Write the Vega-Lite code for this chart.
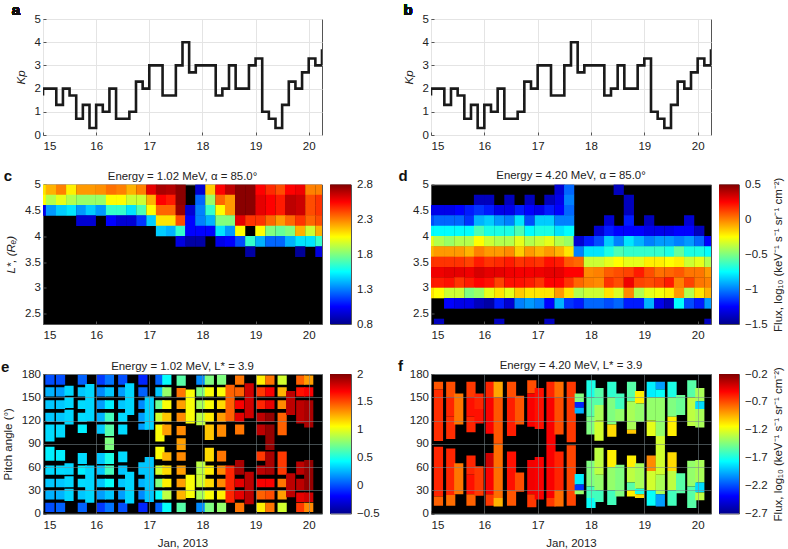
{"$schema":"https://vega.github.io/schema/vega-lite/v6.json","padding":{"left":0,"top":2,"right":0,"bottom":0},"background":"white","resolve":{"scale":{"color":"independent"}},"config":{"font":"Liberation Sans","view":{"stroke":"#555"},"axis":{"labelFontSize":11.5,"labelColor":"#222","titleFontSize":11.5,"titleColor":"#222","titleFontWeight":"normal","grid":false,"domain":false,"tickColor":"#555","tickSize":-3,"labelPadding":5.5,"labelOverlap":false},"axisX":{"labelPadding":8.5},"title":{"fontSize":11.4,"fontWeight":"normal","color":"#222","offset":5}},"columns":5,"align":"each","bounds":"flush","spacing":{"row":49.5,"column":8},"datasets":{"kp":[{"t":15,"k":1.7},{"t":15,"k":2},{"t":15.125,"k":2},{"t":15.25,"k":1.3},{"t":15.375,"k":2},{"t":15.5,"k":1.7},{"t":15.625,"k":0.7},{"t":15.75,"k":1.3},{"t":15.875,"k":0.3},{"t":16,"k":1.3},{"t":16.125,"k":1},{"t":16.25,"k":2},{"t":16.375,"k":0.7},{"t":16.5,"k":0.7},{"t":16.625,"k":1},{"t":16.75,"k":2.3},{"t":16.875,"k":2},{"t":17,"k":3},{"t":17.125,"k":3},{"t":17.25,"k":1.7},{"t":17.375,"k":1.7},{"t":17.5,"k":3},{"t":17.625,"k":4},{"t":17.75,"k":2.7},{"t":17.875,"k":3},{"t":18,"k":3},{"t":18.125,"k":3},{"t":18.25,"k":1.7},{"t":18.375,"k":2},{"t":18.5,"k":3},{"t":18.625,"k":2},{"t":18.75,"k":2},{"t":18.875,"k":3},{"t":19,"k":3.3},{"t":19.125,"k":1},{"t":19.25,"k":0.7},{"t":19.375,"k":0.3},{"t":19.5,"k":1.3},{"t":19.625,"k":2.3},{"t":19.75,"k":2},{"t":19.875,"k":2.7},{"t":20,"k":3.3},{"t":20.125,"k":3},{"t":20.25,"k":3.7}]},"concat":[
{"width":279,"height":116,"data":{"name":"kp"},"layer":[{"mark":{"type":"line","interpolate":"step-after","color":"#1a1a1a","strokeWidth":2.6,"clip":true},"encoding":{"x":{"field":"t","type":"quantitative","scale":{"domain":[15,20.25],"nice":false},"axis":{"values":[15,16,17,18,19,20],"format":"d","title":null,"grid":true,"gridColor":"#e4e4e4"}},"y":{"field":"k","type":"quantitative","scale":{"domain":[0,5]},"axis":{"values":[0,1,2,3,4,5],"tickCount":6,"format":"d","title":"Kp","titleFontStyle":"italic","titlePadding":8,"grid":true,"gridColor":"#e4e4e4"}}}},{"mark":{"type":"text","fontSize":15,"fontWeight":"bold","color":"#111"},"encoding":{"x":{"datum":14.49},"y":{"datum":5.39,"axis":{"values":[0,1,2,3,4,5]}},"text":{"value":"a"}}}]},
{"width":21,"height":116,"view":{"stroke":null},"data":{"values":[]},"mark":"rect"},
{"width":64,"height":116,"view":{"stroke":null},"data":{"values":[]},"mark":"rect"},
{"width":280,"height":116,"data":{"name":"kp"},"layer":[{"mark":{"type":"line","interpolate":"step-after","color":"#1a1a1a","strokeWidth":2.6,"clip":true},"encoding":{"x":{"field":"t","type":"quantitative","scale":{"domain":[15,20.25],"nice":false},"axis":{"values":[15,16,17,18,19,20],"format":"d","title":null,"grid":true,"gridColor":"#e4e4e4"}},"y":{"field":"k","type":"quantitative","scale":{"domain":[0,5]},"axis":{"values":[0,1,2,3,4,5],"tickCount":6,"format":"d","title":"Kp","titleFontStyle":"italic","titlePadding":8,"grid":true,"gridColor":"#e4e4e4"}}}},{"mark":{"type":"text","fontSize":15,"fontWeight":"bold","color":"#111"},"encoding":{"x":{"datum":14.57},"y":{"datum":5.39,"axis":{"values":[0,1,2,3,4,5]}},"text":{"value":"b"}}}]},
{"width":20,"height":116,"view":{"stroke":null},"data":{"values":[]},"mark":"rect"},

{"width":279,"height":139.5,"view":{"fill":"#000"},"title":{"text":"Energy = 1.02 MeV, α = 85.0°","dy":18},"layer":[{"data":{"values":[
{"t":14.96,"y":4.9,"v":2.1},{"t":15.15,"y":4.9,"v":2.2},{"t":15.34,"y":4.9,"v":2.3},{"t":15.53,"y":4.9,"v":2.08},{"t":15.72,"y":4.9,"v":2.25},{"t":15.9,"y":4.9,"v":2.25},{"t":16.09,"y":4.9,"v":2.27},{"t":16.28,"y":4.9,"v":2.33},{"t":16.47,"y":4.9,"v":2.3},{"t":16.66,"y":4.9,"v":2.2},{"t":16.85,"y":4.9,"v":2.3},{"t":17.04,"y":4.9,"v":2.6},{"t":17.22,"y":4.9,"v":2.72},{"t":17.41,"y":4.9,"v":2.7},{"t":17.59,"y":4.9,"v":2.78},{"t":17.96,"y":4.9,"v":0.95},{"t":18.15,"y":4.9,"v":2.15},{"t":18.34,"y":4.9,"v":2.55},{"t":18.52,"y":4.9,"v":2.68},{"t":18.71,"y":4.9,"v":2.78},{"t":18.9,"y":4.9,"v":2.78},{"t":19.09,"y":4.9,"v":2.55},{"t":19.28,"y":4.9,"v":2.47},{"t":19.47,"y":4.9,"v":2.4},{"t":19.65,"y":4.9,"v":2.55},{"t":19.84,"y":4.9,"v":2.58},{"t":20.03,"y":4.9,"v":2.3},{"t":20.22,"y":4.9,"v":2.3},
{"t":14.96,"y":4.7,"v":2.05},{"t":15.15,"y":4.7,"v":1.9},{"t":15.34,"y":4.7,"v":2},{"t":15.53,"y":4.7,"v":1.9},{"t":15.72,"y":4.7,"v":1.85},{"t":15.9,"y":4.7,"v":1.85},{"t":16.09,"y":4.7,"v":1.85},{"t":16.28,"y":4.7,"v":2.05},{"t":16.47,"y":4.7,"v":2.05},{"t":16.66,"y":4.7,"v":1.95},{"t":16.85,"y":4.7,"v":1.95},{"t":17.04,"y":4.7,"v":2.2},{"t":17.22,"y":4.7,"v":2.55},{"t":17.41,"y":4.7,"v":2.5},{"t":17.59,"y":4.7,"v":2.78},{"t":17.96,"y":4.7,"v":1.25},{"t":18.15,"y":4.7,"v":1.85},{"t":18.34,"y":4.7,"v":2.35},{"t":18.52,"y":4.7,"v":2.25},{"t":18.71,"y":4.7,"v":2.78},{"t":18.9,"y":4.7,"v":2.78},{"t":19.09,"y":4.7,"v":2.6},{"t":19.28,"y":4.7,"v":2.55},{"t":19.47,"y":4.7,"v":2.5},{"t":19.65,"y":4.7,"v":2.68},{"t":19.84,"y":4.7,"v":2.65},{"t":20.03,"y":4.7,"v":2.4},{"t":20.22,"y":4.7,"v":2.45},
{"t":14.96,"y":4.5,"v":1},{"t":15.15,"y":4.5,"v":1.35},{"t":15.34,"y":4.5,"v":1.45},{"t":15.53,"y":4.5,"v":1.5},{"t":15.72,"y":4.5,"v":1.35},{"t":15.9,"y":4.5,"v":1.45},{"t":16.09,"y":4.5,"v":1.35},{"t":16.28,"y":4.5,"v":1.65},{"t":16.47,"y":4.5,"v":1.65},{"t":16.66,"y":4.5,"v":1.5},{"t":16.85,"y":4.5,"v":1.7},{"t":17.04,"y":4.5,"v":2.05},{"t":17.22,"y":4.5,"v":2.35},{"t":17.41,"y":4.5,"v":2.35},{"t":17.59,"y":4.5,"v":2.75},{"t":17.77,"y":4.5,"v":0.95},{"t":17.96,"y":4.5,"v":1.3},{"t":18.15,"y":4.5,"v":1.65},{"t":18.34,"y":4.5,"v":2.05},{"t":18.52,"y":4.5,"v":2.25},{"t":18.71,"y":4.5,"v":2.78},{"t":18.9,"y":4.5,"v":2.78},{"t":19.09,"y":4.5,"v":2.6},{"t":19.28,"y":4.5,"v":2.55},{"t":19.47,"y":4.5,"v":2.5},{"t":19.65,"y":4.5,"v":2.68},{"t":19.84,"y":4.5,"v":2.65},{"t":20.03,"y":4.5,"v":2.4},{"t":20.22,"y":4.5,"v":2.45},
{"t":15.72,"y":4.3,"v":0.95},{"t":15.9,"y":4.3,"v":0.95},{"t":16.28,"y":4.3,"v":1.05},{"t":16.47,"y":4.3,"v":0.95},{"t":16.66,"y":4.3,"v":0.95},{"t":16.85,"y":4.3,"v":1.15},{"t":17.04,"y":4.3,"v":1.45},{"t":17.22,"y":4.3,"v":2.1},{"t":17.41,"y":4.3,"v":2.1},{"t":17.59,"y":4.3,"v":2.4},{"t":17.77,"y":4.3,"v":1.05},{"t":17.96,"y":4.3,"v":1.3},{"t":18.15,"y":4.3,"v":1.4},{"t":18.34,"y":4.3,"v":1.8},{"t":18.52,"y":4.3,"v":1.8},{"t":18.71,"y":4.3,"v":2.6},{"t":18.9,"y":4.3,"v":2.45},{"t":19.09,"y":4.3,"v":2.45},{"t":19.28,"y":4.3,"v":2.35},{"t":19.47,"y":4.3,"v":2.25},{"t":19.65,"y":4.3,"v":2.35},{"t":19.84,"y":4.3,"v":2.45},{"t":20.03,"y":4.3,"v":2.35},{"t":20.22,"y":4.3,"v":2.4},
{"t":17.22,"y":4.1,"v":1.45},{"t":17.41,"y":4.1,"v":1.4},{"t":17.59,"y":4.1,"v":1.65},{"t":17.77,"y":4.1,"v":1.05},{"t":17.96,"y":4.1,"v":1.05},{"t":18.15,"y":4.1,"v":1.05},{"t":18.34,"y":4.1,"v":1.5},{"t":18.52,"y":4.1,"v":1.35},{"t":18.71,"y":4.1,"v":2.05},{"t":19.09,"y":4.1,"v":2.05},{"t":19.28,"y":4.1,"v":1.8},{"t":19.47,"y":4.1,"v":1.75},{"t":19.65,"y":4.1,"v":1.8},{"t":19.84,"y":4.1,"v":2.2},{"t":20.03,"y":4.1,"v":1.95},{"t":20.22,"y":4.1,"v":2.2},
{"t":17.59,"y":3.9,"v":0.98},{"t":17.77,"y":3.9,"v":0.85},{"t":17.96,"y":3.9,"v":0.85},{"t":18.34,"y":3.9,"v":1},{"t":18.52,"y":3.9,"v":1.05},{"t":18.71,"y":3.9,"v":1.2},{"t":18.9,"y":3.9,"v":1.65},{"t":19.09,"y":3.9,"v":1.4},{"t":19.28,"y":3.9,"v":1.25},{"t":19.47,"y":3.9,"v":1.25},{"t":19.65,"y":3.9,"v":1.4},{"t":19.84,"y":3.9,"v":1.5},{"t":20.03,"y":3.9,"v":1.5},{"t":20.22,"y":3.9,"v":1.65},
{"t":18.9,"y":3.7,"v":0.85},{"t":19.84,"y":3.7,"v":0.82},{"t":20.22,"y":3.7,"v":0.98}
]},"mark":{"type":"rect","width":10.2,"height":10.6,"clip":true},"encoding":{"x":{"field":"t","type":"quantitative","scale":{"domain":[15,20.25],"nice":false},"axis":{"values":[15,16,17,18,19,20],"format":"d","title":null}},"y":{"field":"y","type":"quantitative","scale":{"domain":[2.3,5],"nice":false},"axis":{"values":[2.5,3,3.5,4,4.5,5],"tickCount":6,"format":"~r","title":"L*, (Rₑ)","titleFontStyle":"italic","titlePadding":8}},"color":{"field":"v","type":"quantitative","legend":null,"scale":{"domain":[0.8,1.05,1.55,2.05,2.55,2.8],"range":["#00008f","#0000ff","#00ffff","#ffff00","#ff0000","#800000"],"interpolate":"rgb"}}}},{"data":{"values":[{}]},"mark":{"type":"text","fontSize":15,"fontWeight":"bold","color":"#111"},"encoding":{"x":{"datum":14.34},"y":{"datum":5.155,"axis":{"values":[2.5,3,3.5,4,4.5,5]}},"text":{"value":"c"}}}]},
{"width":21,"height":139.5,"data":{"values":[{"lo":0.8,"hi":2.8}]},"mark":{"type":"rect","color":{"gradient":"linear","x1":0,"y1":1,"x2":0,"y2":0,"stops":[{"offset":0,"color":"#00008f"},{"offset":0.125,"color":"#0000ff"},{"offset":0.375,"color":"#00ffff"},{"offset":0.625,"color":"#ffff00"},{"offset":0.875,"color":"#ff0000"},{"offset":1,"color":"#800000"}]}},"encoding":{"y":{"field":"lo","type":"quantitative","scale":{"domain":[0.8,2.8],"nice":false},"axis":{"orient":"right","values":[0.8,1.3,1.8,2.3,2.8],"format":".1f","title":null,"tickSize":0}},"y2":{"field":"hi"}}},
{"width":64,"height":139.5,"view":{"stroke":null},"data":{"values":[]},"mark":"rect"},
{"width":280,"height":139.5,"view":{"fill":"#000"},"title":{"text":"Energy = 4.20 MeV, α = 85.0°","dy":18},"layer":[{"data":{"values":[
{"t":17.41,"y":4.9,"v":-1.35},{"t":17.59,"y":4.9,"v":-1.05},{"t":18.52,"y":4.9,"v":-1.4},
{"t":15.9,"y":4.7,"v":-1.4},{"t":16.09,"y":4.7,"v":-1.4},{"t":16.47,"y":4.7,"v":-1.4},{"t":16.85,"y":4.7,"v":-1.4},{"t":17.22,"y":4.7,"v":-1.4},{"t":17.41,"y":4.7,"v":-1.3},{"t":17.59,"y":4.7,"v":-1},{"t":18.71,"y":4.7,"v":-1.4},
{"t":14.96,"y":4.5,"v":-1.3},{"t":15.15,"y":4.5,"v":-1.3},{"t":15.34,"y":4.5,"v":-1.3},{"t":15.53,"y":4.5,"v":-1.25},{"t":15.72,"y":4.5,"v":-1.2},{"t":15.9,"y":4.5,"v":-1.15},{"t":16.09,"y":4.5,"v":-1.2},{"t":16.28,"y":4.5,"v":-1.3},{"t":16.47,"y":4.5,"v":-1.3},{"t":16.66,"y":4.5,"v":-1.2},{"t":16.85,"y":4.5,"v":-1.25},{"t":17.04,"y":4.5,"v":-1.3},{"t":17.22,"y":4.5,"v":-1.2},{"t":17.41,"y":4.5,"v":-1.25},{"t":17.59,"y":4.5,"v":-1.05},{"t":18.71,"y":4.5,"v":-1.4},
{"t":14.96,"y":4.3,"v":-1.1},{"t":15.15,"y":4.3,"v":-1.05},{"t":15.34,"y":4.3,"v":-1.05},{"t":15.53,"y":4.3,"v":-1.05},{"t":15.72,"y":4.3,"v":-1.15},{"t":15.9,"y":4.3,"v":-0.9},{"t":16.09,"y":4.3,"v":-0.85},{"t":16.28,"y":4.3,"v":-0.95},{"t":16.47,"y":4.3,"v":-1},{"t":16.66,"y":4.3,"v":-0.8},{"t":16.85,"y":4.3,"v":-1.1},{"t":17.04,"y":4.3,"v":-0.85},{"t":17.22,"y":4.3,"v":-0.85},{"t":17.41,"y":4.3,"v":-1},{"t":17.59,"y":4.3,"v":-1},{"t":18.34,"y":4.3,"v":-1.35},{"t":18.71,"y":4.3,"v":-1.2},{"t":19.09,"y":4.3,"v":-1.4},{"t":19.84,"y":4.3,"v":-1.35},
{"t":14.96,"y":4.1,"v":-0.75},{"t":15.15,"y":4.1,"v":-0.75},{"t":15.34,"y":4.1,"v":-0.75},{"t":15.53,"y":4.1,"v":-0.75},{"t":15.72,"y":4.1,"v":-0.75},{"t":15.9,"y":4.1,"v":-0.6},{"t":16.09,"y":4.1,"v":-0.7},{"t":16.28,"y":4.1,"v":-0.7},{"t":16.47,"y":4.1,"v":-0.7},{"t":16.66,"y":4.1,"v":-0.6},{"t":16.85,"y":4.1,"v":-0.75},{"t":17.04,"y":4.1,"v":-0.7},{"t":17.22,"y":4.1,"v":-0.7},{"t":17.41,"y":4.1,"v":-0.8},{"t":17.59,"y":4.1,"v":-0.75},{"t":18.15,"y":4.1,"v":-1.35},{"t":18.34,"y":4.1,"v":-1.2},{"t":18.52,"y":4.1,"v":-1.25},{"t":18.71,"y":4.1,"v":-1.25},{"t":18.9,"y":4.1,"v":-1.25},{"t":19.09,"y":4.1,"v":-1.3},{"t":19.28,"y":4.1,"v":-1.3},{"t":19.47,"y":4.1,"v":-1.3},{"t":19.65,"y":4.1,"v":-1.25},{"t":19.84,"y":4.1,"v":-1.25},{"t":20.03,"y":4.1,"v":-1.4},
{"t":14.96,"y":3.9,"v":-0.3},{"t":15.15,"y":3.9,"v":-0.4},{"t":15.34,"y":3.9,"v":-0.45},{"t":15.53,"y":3.9,"v":-0.4},{"t":15.72,"y":3.9,"v":-0.4},{"t":15.9,"y":3.9,"v":-0.25},{"t":16.09,"y":3.9,"v":-0.35},{"t":16.28,"y":3.9,"v":-0.4},{"t":16.47,"y":3.9,"v":-0.4},{"t":16.66,"y":3.9,"v":-0.3},{"t":16.85,"y":3.9,"v":-0.4},{"t":17.04,"y":3.9,"v":-0.35},{"t":17.22,"y":3.9,"v":-0.3},{"t":17.41,"y":3.9,"v":-0.4},{"t":17.59,"y":3.9,"v":-0.45},{"t":17.77,"y":3.9,"v":-1.35},{"t":17.96,"y":3.9,"v":-1.2},{"t":18.15,"y":3.9,"v":-1.1},{"t":18.34,"y":3.9,"v":-0.85},{"t":18.52,"y":3.9,"v":-1},{"t":18.71,"y":3.9,"v":-0.8},{"t":18.9,"y":3.9,"v":-0.9},{"t":19.09,"y":3.9,"v":-1},{"t":19.28,"y":3.9,"v":-0.95},{"t":19.47,"y":3.9,"v":-0.95},{"t":19.65,"y":3.9,"v":-1},{"t":19.84,"y":3.9,"v":-0.95},{"t":20.03,"y":3.9,"v":-1.05},{"t":20.22,"y":3.9,"v":-1.25},
{"t":14.96,"y":3.7,"v":-0.1},{"t":15.15,"y":3.7,"v":-0.05},{"t":15.34,"y":3.7,"v":-0.05},{"t":15.53,"y":3.7,"v":-0.05},{"t":15.72,"y":3.7,"v":-0.1},{"t":15.9,"y":3.7,"v":0},{"t":16.09,"y":3.7,"v":-0.05},{"t":16.28,"y":3.7,"v":-0.05},{"t":16.47,"y":3.7,"v":-0.02},{"t":16.66,"y":3.7,"v":-0.15},{"t":16.85,"y":3.7,"v":-0.05},{"t":17.04,"y":3.7,"v":-0.1},{"t":17.22,"y":3.7,"v":-0.05},{"t":17.41,"y":3.7,"v":-0.1},{"t":17.59,"y":3.7,"v":-0.2},{"t":17.77,"y":3.7,"v":-1},{"t":17.96,"y":3.7,"v":-0.8},{"t":18.15,"y":3.7,"v":-0.8},{"t":18.34,"y":3.7,"v":-0.7},{"t":18.52,"y":3.7,"v":-0.6},{"t":18.71,"y":3.7,"v":-0.65},{"t":18.9,"y":3.7,"v":-0.65},{"t":19.09,"y":3.7,"v":-0.65},{"t":19.28,"y":3.7,"v":-0.65},{"t":19.47,"y":3.7,"v":-0.7},{"t":19.65,"y":3.7,"v":-0.55},{"t":19.84,"y":3.7,"v":-0.7},{"t":20.03,"y":3.7,"v":-0.7},{"t":20.22,"y":3.7,"v":-0.75},
{"t":14.96,"y":3.5,"v":0.15},{"t":15.15,"y":3.5,"v":0.15},{"t":15.34,"y":3.5,"v":0.15},{"t":15.53,"y":3.5,"v":0.15},{"t":15.72,"y":3.5,"v":0.12},{"t":15.9,"y":3.5,"v":0.2},{"t":16.09,"y":3.5,"v":0.15},{"t":16.28,"y":3.5,"v":0.17},{"t":16.47,"y":3.5,"v":0.2},{"t":16.66,"y":3.5,"v":0.15},{"t":16.85,"y":3.5,"v":0.17},{"t":17.04,"y":3.5,"v":0.15},{"t":17.22,"y":3.5,"v":0.22},{"t":17.41,"y":3.5,"v":0.2},{"t":17.59,"y":3.5,"v":0.08},{"t":17.77,"y":3.5,"v":0.05},{"t":17.96,"y":3.5,"v":-0.35},{"t":18.15,"y":3.5,"v":-0.35},{"t":18.34,"y":3.5,"v":-0.3},{"t":18.52,"y":3.5,"v":-0.25},{"t":18.71,"y":3.5,"v":-0.3},{"t":18.9,"y":3.5,"v":-0.3},{"t":19.09,"y":3.5,"v":-0.22},{"t":19.28,"y":3.5,"v":-0.22},{"t":19.47,"y":3.5,"v":-0.25},{"t":19.65,"y":3.5,"v":-0.22},{"t":19.84,"y":3.5,"v":-0.35},{"t":20.03,"y":3.5,"v":-0.3},{"t":20.22,"y":3.5,"v":-0.4},
{"t":14.96,"y":3.3,"v":0.27},{"t":15.15,"y":3.3,"v":0.28},{"t":15.34,"y":3.3,"v":0.3},{"t":15.53,"y":3.3,"v":0.3},{"t":15.72,"y":3.3,"v":0.28},{"t":15.9,"y":3.3,"v":0.33},{"t":16.09,"y":3.3,"v":0.3},{"t":16.28,"y":3.3,"v":0.3},{"t":16.47,"y":3.3,"v":0.28},{"t":16.66,"y":3.3,"v":0.27},{"t":16.85,"y":3.3,"v":0.27},{"t":17.04,"y":3.3,"v":0.28},{"t":17.22,"y":3.3,"v":0.3},{"t":17.41,"y":3.3,"v":0.3},{"t":17.59,"y":3.3,"v":0.25},{"t":17.77,"y":3.3,"v":0.25},{"t":17.96,"y":3.3,"v":-0.02},{"t":18.15,"y":3.3,"v":0},{"t":18.34,"y":3.3,"v":0.07},{"t":18.52,"y":3.3,"v":0.1},{"t":18.71,"y":3.3,"v":0.12},{"t":18.9,"y":3.3,"v":0.2},{"t":19.09,"y":3.3,"v":0.1},{"t":19.28,"y":3.3,"v":0.03},{"t":19.47,"y":3.3,"v":0.05},{"t":19.65,"y":3.3,"v":0.08},{"t":19.84,"y":3.3,"v":0.02},{"t":20.03,"y":3.3,"v":0.02},{"t":20.22,"y":3.3,"v":-0.05},
{"t":14.96,"y":3.1,"v":0.2},{"t":15.15,"y":3.1,"v":0.2},{"t":15.34,"y":3.1,"v":0.22},{"t":15.53,"y":3.1,"v":0.15},{"t":15.72,"y":3.1,"v":0.2},{"t":15.9,"y":3.1,"v":0.25},{"t":16.09,"y":3.1,"v":0.22},{"t":16.28,"y":3.1,"v":0.12},{"t":16.47,"y":3.1,"v":0.22},{"t":16.66,"y":3.1,"v":0.22},{"t":16.85,"y":3.1,"v":0.2},{"t":17.04,"y":3.1,"v":0.15},{"t":17.22,"y":3.1,"v":0.25},{"t":17.41,"y":3.1,"v":0.25},{"t":17.59,"y":3.1,"v":0.15},{"t":17.77,"y":3.1,"v":0.05},{"t":17.96,"y":3.1,"v":0},{"t":18.15,"y":3.1,"v":-0.02},{"t":18.34,"y":3.1,"v":0.15},{"t":18.52,"y":3.1,"v":0.1},{"t":18.71,"y":3.1,"v":0.28},{"t":18.9,"y":3.1,"v":0.12},{"t":19.09,"y":3.1,"v":0.1},{"t":19.28,"y":3.1,"v":0.13},{"t":19.47,"y":3.1,"v":0.2},{"t":19.65,"y":3.1,"v":0},{"t":19.84,"y":3.1,"v":0.12},{"t":20.03,"y":3.1,"v":0.02},{"t":20.22,"y":3.1,"v":0},
{"t":14.96,"y":2.9,"v":-0.2},{"t":15.15,"y":2.9,"v":-0.25},{"t":15.34,"y":2.9,"v":-0.35},{"t":15.53,"y":2.9,"v":-0.35},{"t":15.72,"y":2.9,"v":-0.5},{"t":15.9,"y":2.9,"v":-0.45},{"t":16.09,"y":2.9,"v":-0.3},{"t":16.28,"y":2.9,"v":-0.2},{"t":16.47,"y":2.9,"v":-0.3},{"t":16.66,"y":2.9,"v":-0.15},{"t":16.85,"y":2.9,"v":-0.2},{"t":17.04,"y":2.9,"v":-0.2},{"t":17.22,"y":2.9,"v":-0.2},{"t":17.41,"y":2.9,"v":-0.05},{"t":17.59,"y":2.9,"v":-0.2},{"t":17.77,"y":2.9,"v":-0.4},{"t":17.96,"y":2.9,"v":-0.35},{"t":18.15,"y":2.9,"v":-0.35},{"t":18.34,"y":2.9,"v":-0.2},{"t":18.52,"y":2.9,"v":-0.32},{"t":18.71,"y":2.9,"v":-0.02},{"t":18.9,"y":2.9,"v":-0.4},{"t":19.09,"y":2.9,"v":-0.3},{"t":19.28,"y":2.9,"v":-0.27},{"t":19.47,"y":2.9,"v":-0.22},{"t":19.65,"y":2.9,"v":-0.05},{"t":19.84,"y":2.9,"v":-0.4},{"t":20.03,"y":2.9,"v":-0.2},{"t":20.22,"y":2.9,"v":-0.1},
{"t":15.34,"y":2.7,"v":-1.25},{"t":15.53,"y":2.7,"v":-1.3},{"t":15.72,"y":2.7,"v":-1.3},{"t":15.9,"y":2.7,"v":-1.4},{"t":16.09,"y":2.7,"v":-1.45},{"t":16.28,"y":2.7,"v":-1.2},{"t":16.47,"y":2.7,"v":-1.35},{"t":16.66,"y":2.7,"v":-1},{"t":16.85,"y":2.7,"v":-0.95},{"t":17.04,"y":2.7,"v":-1},{"t":17.22,"y":2.7,"v":-1.25},{"t":17.41,"y":2.7,"v":-0.9},{"t":17.59,"y":2.7,"v":-1.15},{"t":17.77,"y":2.7,"v":-1.2},{"t":17.96,"y":2.7,"v":-1.05},{"t":18.15,"y":2.7,"v":-1.05},{"t":18.34,"y":2.7,"v":-1.1},{"t":18.52,"y":2.7,"v":-1.05},{"t":18.71,"y":2.7,"v":-1.2},{"t":18.9,"y":2.7,"v":-1.2},{"t":19.09,"y":2.7,"v":-0.9},{"t":19.28,"y":2.7,"v":-1.3},{"t":19.47,"y":2.7,"v":-1.4},{"t":19.65,"y":2.7,"v":-0.75},{"t":19.84,"y":2.7,"v":-1.1},{"t":20.03,"y":2.7,"v":-1.2},{"t":20.22,"y":2.7,"v":-0.95},
{"t":15.15,"y":2.3,"v":-1.4},{"t":16.28,"y":2.3,"v":-1.4},{"t":17.22,"y":2.3,"v":-1.4},{"t":20.22,"y":2.3,"v":-1.4}
]},"mark":{"type":"rect","width":10.2,"height":10.6,"clip":true},"encoding":{"x":{"field":"t","type":"quantitative","scale":{"domain":[15,20.25],"nice":false},"axis":{"values":[15,16,17,18,19,20],"format":"d","title":null}},"y":{"field":"y","type":"quantitative","scale":{"domain":[2.3,5],"nice":false},"axis":{"values":[2.5,3,3.5,4,4.5,5],"tickCount":6,"format":"~r","title":null}},"color":{"field":"v","type":"quantitative","legend":null,"scale":{"domain":[-1.5,-1.25,-0.75,-0.25,0.25,0.5],"range":["#00008f","#0000ff","#00ffff","#ffff00","#ff0000","#800000"],"interpolate":"rgb"}}}},{"data":{"values":[{}]},"mark":{"type":"text","fontSize":15,"fontWeight":"bold","color":"#111"},"encoding":{"x":{"datum":14.475},"y":{"datum":5.17,"axis":{"values":[2.5,3,3.5,4,4.5,5]}},"text":{"value":"d"}}}]},
{"width":20,"height":139.5,"data":{"values":[{"lo":-1.5,"hi":0.5}]},"mark":{"type":"rect","color":{"gradient":"linear","x1":0,"y1":1,"x2":0,"y2":0,"stops":[{"offset":0,"color":"#00008f"},{"offset":0.125,"color":"#0000ff"},{"offset":0.375,"color":"#00ffff"},{"offset":0.625,"color":"#ffff00"},{"offset":0.875,"color":"#ff0000"},{"offset":1,"color":"#800000"}]}},"encoding":{"y":{"field":"lo","type":"quantitative","scale":{"domain":[-1.5,0.5],"nice":false},"axis":{"orient":"right","values":[-1.5,-1,-0.5,0,0.5],"format":"~r","title":"Flux, log₁₀ (keV⁻¹ s⁻¹ sr⁻¹ cm⁻²)","titleAngle":270,"titlePadding":16,"tickSize":0}},"y2":{"field":"hi"}}},

{"width":279,"height":139.5,"view":{"fill":"#000"},"title":{"text":"Energy = 1.02 MeV, L* = 3.9","dy":17},"layer":[{"data":{"values":[
{"t":15.13,"a":166,"b":179,"v":0},{"t":15.13,"a":151,"b":163,"v":0.25},{"t":15.13,"a":135,"b":146,"v":0.3},{"t":15.13,"a":118,"b":130,"v":0.3},{"t":15.13,"a":93,"b":115,"v":0.35},{"t":15.13,"a":68,"b":86,"v":0.4},{"t":15.13,"a":50,"b":62,"v":0.35},{"t":15.13,"a":34,"b":45,"v":0.3},{"t":15.13,"a":18,"b":30,"v":0.25},{"t":15.13,"a":2,"b":14,"v":0},
{"t":15.33,"a":166,"b":179,"v":0},{"t":15.33,"a":151,"b":163,"v":0.2},{"t":15.33,"a":135,"b":146,"v":0.3},{"t":15.33,"a":118,"b":130,"v":0.3},{"t":15.33,"a":98,"b":115,"v":0.35},{"t":15.33,"a":68,"b":82,"v":0.4},{"t":15.33,"a":50,"b":62,"v":0.35},{"t":15.33,"a":34,"b":45,"v":0.3},{"t":15.33,"a":18,"b":30,"v":0.25},{"t":15.33,"a":2,"b":14,"v":0.05},
{"t":15.49,"a":152,"b":165,"v":0.34},{"t":15.49,"a":136,"b":150,"v":0.34},{"t":15.49,"a":115,"b":134,"v":0.34},{"t":15.49,"a":50,"b":65,"v":0.34},{"t":15.49,"a":34,"b":48,"v":0.34},{"t":15.49,"a":16,"b":32,"v":0.34},
{"t":15.74,"a":166,"b":179,"v":0.05},{"t":15.74,"a":151,"b":163,"v":0.3},{"t":15.74,"a":135,"b":146,"v":0.35},{"t":15.74,"a":118,"b":130,"v":0.35},{"t":15.74,"a":104,"b":115,"v":0.4},{"t":15.74,"a":64,"b":78,"v":0.35},{"t":15.74,"a":50,"b":62,"v":0.4},{"t":15.74,"a":34,"b":45,"v":0.35},{"t":15.74,"a":18,"b":30,"v":0.3},{"t":15.74,"a":2,"b":14,"v":0.05},
{"t":15.88,"a":119,"b":167,"v":0.34},{"t":15.88,"a":14,"b":62,"v":0.34},
{"t":16.1,"a":166,"b":179,"v":-0.05},{"t":16.1,"a":151,"b":163,"v":0.15},{"t":16.1,"a":135,"b":146,"v":0.2},{"t":16.1,"a":118,"b":130,"v":0.25},{"t":16.1,"a":103,"b":115,"v":0.3},{"t":16.1,"a":64,"b":78,"v":0.3},{"t":16.1,"a":50,"b":62,"v":0.3},{"t":16.1,"a":34,"b":45,"v":0.3},{"t":16.1,"a":18,"b":30,"v":0.2},{"t":16.1,"a":2,"b":14,"v":-0.05},
{"t":16.25,"a":166,"b":179,"v":0.1},{"t":16.25,"a":151,"b":163,"v":0.3},{"t":16.25,"a":135,"b":146,"v":0.4},{"t":16.25,"a":118,"b":130,"v":0.6},{"t":16.25,"a":100,"b":115,"v":0.65},{"t":16.25,"a":82,"b":98,"v":0.75},{"t":16.25,"a":64,"b":78,"v":0.5},{"t":16.25,"a":50,"b":62,"v":0.6},{"t":16.25,"a":34,"b":45,"v":0.45},{"t":16.25,"a":18,"b":30,"v":0.3},{"t":16.25,"a":2,"b":14,"v":0.1},
{"t":16.5,"a":166,"b":179,"v":0},{"t":16.5,"a":151,"b":163,"v":0.2},{"t":16.5,"a":135,"b":146,"v":0.3},{"t":16.5,"a":118,"b":130,"v":0.35},{"t":16.5,"a":102,"b":115,"v":0.35},{"t":16.5,"a":66,"b":80,"v":0.35},{"t":16.5,"a":50,"b":62,"v":0.3},{"t":16.5,"a":34,"b":45,"v":0.3},{"t":16.5,"a":18,"b":30,"v":0.2},{"t":16.5,"a":2,"b":14,"v":0},
{"t":16.63,"a":127,"b":168,"v":0.34},{"t":16.63,"a":13,"b":54,"v":0.34},
{"t":16.88,"a":166,"b":179,"v":-0.1},{"t":16.88,"a":151,"b":163,"v":0.05},{"t":16.88,"a":135,"b":146,"v":0.15},{"t":16.88,"a":118,"b":130,"v":0.2},{"t":16.88,"a":108,"b":116,"v":0.2},{"t":16.88,"a":50,"b":66,"v":0.3},{"t":16.88,"a":34,"b":45,"v":0.25},{"t":16.88,"a":18,"b":30,"v":0.15},{"t":16.88,"a":2,"b":14,"v":-0.1},
{"t":17,"a":108,"b":151,"v":0.33},{"t":17,"a":15,"b":73,"v":0.3},
{"t":17.2,"a":166,"b":179,"v":0.05},{"t":17.2,"a":151,"b":163,"v":0.3},{"t":17.2,"a":135,"b":146,"v":0.7},{"t":17.2,"a":118,"b":130,"v":0.95},{"t":17.2,"a":93,"b":115,"v":1.05},{"t":17.2,"a":70,"b":86,"v":1.05},{"t":17.2,"a":50,"b":62,"v":0.95},{"t":17.2,"a":34,"b":45,"v":0.75},{"t":17.2,"a":18,"b":30,"v":0.45},{"t":17.2,"a":2,"b":14,"v":0.05},
{"t":17.33,"a":166,"b":179,"v":0.45},{"t":17.33,"a":151,"b":163,"v":0.8},{"t":17.33,"a":135,"b":146,"v":1.05},{"t":17.33,"a":118,"b":130,"v":1.2},{"t":17.33,"a":101,"b":115,"v":1.3},{"t":17.33,"a":68,"b":79,"v":1.25},{"t":17.33,"a":50,"b":62,"v":1.15},{"t":17.33,"a":34,"b":45,"v":1.1},{"t":17.33,"a":18,"b":30,"v":0.9},{"t":17.33,"a":2,"b":14,"v":0.45},
{"t":17.6,"a":165,"b":178,"v":0.65},{"t":17.6,"a":150,"b":162,"v":1.4},{"t":17.6,"a":135,"b":146,"v":1.3},{"t":17.6,"a":118,"b":130,"v":1.35},{"t":17.6,"a":101,"b":113,"v":1.35},{"t":17.6,"a":82,"b":97,"v":1.3},{"t":17.6,"a":68,"b":79,"v":1.35},{"t":17.6,"a":50,"b":62,"v":1.3},{"t":17.6,"a":34,"b":45,"v":1.3},{"t":17.6,"a":18,"b":30,"v":1.25},{"t":17.6,"a":2,"b":14,"v":0.65},
{"t":17.77,"a":116,"b":160,"v":1.05},{"t":17.77,"a":20,"b":50,"v":1.05},
{"t":17.97,"a":166,"b":178,"v":0.15},{"t":17.97,"a":151,"b":163,"v":0.75},{"t":17.97,"a":135,"b":146,"v":0.85},{"t":17.97,"a":114,"b":130,"v":0.9},{"t":17.97,"a":50,"b":67,"v":0.9},{"t":17.97,"a":34,"b":50,"v":0.95},{"t":17.97,"a":18,"b":30,"v":0.85},{"t":17.97,"a":2,"b":14,"v":0.15},
{"t":18.13,"a":166,"b":178,"v":0.75},{"t":18.13,"a":151,"b":163,"v":1.05},{"t":18.13,"a":135,"b":146,"v":1.05},{"t":18.13,"a":118,"b":130,"v":1.1},{"t":18.13,"a":95,"b":115,"v":1.2},{"t":18.13,"a":67,"b":85,"v":1.15},{"t":18.13,"a":50,"b":62,"v":1.1},{"t":18.13,"a":34,"b":45,"v":1.15},{"t":18.13,"a":18,"b":30,"v":1.05},{"t":18.13,"a":2,"b":14,"v":0.75},
{"t":18.36,"a":166,"b":179,"v":0.75},{"t":18.36,"a":151,"b":163,"v":1.05},{"t":18.36,"a":135,"b":146,"v":1.15},{"t":18.36,"a":118,"b":130,"v":1.3},{"t":18.36,"a":99,"b":115,"v":1.35},{"t":18.36,"a":67,"b":81,"v":1.4},{"t":18.36,"a":50,"b":62,"v":1.35},{"t":18.36,"a":34,"b":45,"v":1.35},{"t":18.36,"a":18,"b":30,"v":1.1},{"t":18.36,"a":2,"b":14,"v":0.8},
{"t":18.52,"a":119,"b":166,"v":1.45},{"t":18.52,"a":14,"b":62,"v":1.6},
{"t":18.7,"a":166,"b":178,"v":1.4},{"t":18.7,"a":151,"b":163,"v":1.45},{"t":18.7,"a":135,"b":146,"v":1.7},{"t":18.7,"a":118,"b":130,"v":1.75},{"t":18.7,"a":102,"b":115,"v":1.4},{"t":18.7,"a":50,"b":69,"v":1.9},{"t":18.7,"a":34,"b":45,"v":1.75},{"t":18.7,"a":18,"b":30,"v":1.75},{"t":18.7,"a":2,"b":14,"v":1.4},
{"t":18.88,"a":123,"b":168,"v":1.8},{"t":18.88,"a":12,"b":54,"v":1.85},
{"t":19.1,"a":166,"b":178,"v":1.1},{"t":19.1,"a":151,"b":163,"v":1.55},{"t":19.1,"a":135,"b":146,"v":1.6},{"t":19.1,"a":118,"b":130,"v":1.85},{"t":19.1,"a":101,"b":115,"v":1.85},{"t":19.1,"a":68,"b":80,"v":1.55},{"t":19.1,"a":50,"b":62,"v":1.85},{"t":19.1,"a":34,"b":45,"v":1.7},{"t":19.1,"a":18,"b":30,"v":1.45},{"t":19.1,"a":2,"b":14,"v":1.1},
{"t":19.27,"a":166,"b":178,"v":1.4},{"t":19.27,"a":151,"b":163,"v":1.7},{"t":19.27,"a":135,"b":146,"v":1.75},{"t":19.27,"a":118,"b":130,"v":1.95},{"t":19.27,"a":82,"b":115,"v":1.95},{"t":19.27,"a":50,"b":80,"v":1.9},{"t":19.27,"a":34,"b":45,"v":1.7},{"t":19.27,"a":18,"b":30,"v":1.5},{"t":19.27,"a":2,"b":14,"v":1.4},
{"t":19.5,"a":166,"b":178,"v":0.95},{"t":19.5,"a":151,"b":163,"v":1.25},{"t":19.5,"a":135,"b":146,"v":1.35},{"t":19.5,"a":101,"b":130,"v":1.45},{"t":19.5,"a":50,"b":80,"v":1.55},{"t":19.5,"a":34,"b":45,"v":1.4},{"t":19.5,"a":18,"b":30,"v":1.3},{"t":19.5,"a":2,"b":14,"v":0.95},
{"t":19.66,"a":127,"b":158,"v":1.85},{"t":19.66,"a":21,"b":52,"v":1.85},
{"t":19.85,"a":166,"b":178,"v":1.45},{"t":19.85,"a":151,"b":163,"v":1.65},{"t":19.85,"a":116,"b":146,"v":1.85},{"t":19.85,"a":50,"b":67,"v":1.85},{"t":19.85,"a":30,"b":45,"v":1.85},{"t":19.85,"a":15,"b":27,"v":1.75},{"t":19.85,"a":2,"b":14,"v":1.55},
{"t":20,"a":166,"b":178,"v":1.3},{"t":20,"a":151,"b":163,"v":1.7},{"t":20,"a":111,"b":146,"v":1.9},{"t":20,"a":30,"b":69,"v":1.95},{"t":20,"a":15,"b":27,"v":1.8},{"t":20,"a":2,"b":14,"v":1.35}
]},"mark":{"type":"rect","width":9.2,"clip":true},"encoding":{"x":{"field":"t","type":"quantitative","scale":{"domain":[15,20.25],"nice":false},"axis":{"values":[15,16,17,18,19,20],"format":"d","title":"Jan, 2013","titlePadding":7,"grid":true,"gridColor":"#7a8a90","gridOpacity":0.55,"zindex":1}},"y":{"field":"a","type":"quantitative","scale":{"domain":[0,180],"nice":false},"axis":{"values":[0,30,60,90,120,150,180],"tickCount":7,"format":"d","title":"Pitch angle (°)","titlePadding":8,"grid":true,"gridColor":"#7a8a90","gridOpacity":0.55,"zindex":1}},"y2":{"field":"b"},"color":{"field":"v","type":"quantitative","legend":null,"scale":{"domain":[-0.5,-0.1875,0.4375,1.0625,1.6875,2],"range":["#00008f","#0000ff","#00ffff","#ffff00","#ff0000","#800000"],"interpolate":"rgb"}}}},{"data":{"values":[{}]},"mark":{"type":"text","fontSize":15,"fontWeight":"bold","color":"#111"},"encoding":{"x":{"datum":14.29},"y":{"datum":189,"axis":{"values":[0,30,60,90,120,150,180]}},"text":{"value":"e"}}}]},
{"width":21,"height":139.5,"data":{"values":[{"lo":-0.5,"hi":2}]},"mark":{"type":"rect","color":{"gradient":"linear","x1":0,"y1":1,"x2":0,"y2":0,"stops":[{"offset":0,"color":"#00008f"},{"offset":0.125,"color":"#0000ff"},{"offset":0.375,"color":"#00ffff"},{"offset":0.625,"color":"#ffff00"},{"offset":0.875,"color":"#ff0000"},{"offset":1,"color":"#800000"}]}},"encoding":{"y":{"field":"lo","type":"quantitative","scale":{"domain":[-0.5,2],"nice":false},"axis":{"orient":"right","values":[-0.5,0,0.5,1,1.5,2],"format":"~r","title":null,"tickSize":0}},"y2":{"field":"hi"}}},
{"width":64,"height":139.5,"view":{"stroke":null},"data":{"values":[]},"mark":"rect"},
{"width":280,"height":139.5,"view":{"fill":"#000"},"title":{"text":"Energy = 4.20 MeV, L* = 3.9","dy":17},"layer":[{"data":{"values":[
{"t":15.14,"a":160,"b":170,"v":-0.72},{"t":15.14,"a":93.5,"b":160,"v":-0.62},{"t":15.14,"a":22,"b":86,"v":-0.6},{"t":15.14,"a":10,"b":22,"v":-0.75},
{"t":15.37,"a":150,"b":170,"v":-0.7},{"t":15.37,"a":125,"b":150,"v":-0.6},{"t":15.37,"a":96,"b":125,"v":-0.62},{"t":15.37,"a":24,"b":84,"v":-0.6},{"t":15.37,"a":10,"b":24,"v":-0.78},
{"t":15.52,"a":115,"b":155,"v":-0.8},{"t":15.52,"a":25,"b":65,"v":-0.8},
{"t":15.75,"a":150,"b":170,"v":-0.65},{"t":15.75,"a":125,"b":150,"v":-0.55},{"t":15.75,"a":105,"b":125,"v":-0.6},{"t":15.75,"a":50,"b":75,"v":-0.6},{"t":15.75,"a":25,"b":50,"v":-0.55},{"t":15.75,"a":10,"b":25,"v":-0.75},
{"t":15.9,"a":135,"b":155,"v":-0.6},{"t":15.9,"a":116,"b":135,"v":-0.55},{"t":15.9,"a":23,"b":61,"v":-0.65},
{"t":16.11,"a":150,"b":170,"v":-0.6},{"t":16.11,"a":103,"b":150,"v":-0.5},{"t":16.11,"a":60,"b":78,"v":-0.4},{"t":16.11,"a":25,"b":60,"v":-0.5},{"t":16.11,"a":10,"b":25,"v":-0.65},
{"t":16.26,"a":150,"b":170,"v":-0.92},{"t":16.26,"a":90,"b":150,"v":-0.72},{"t":16.26,"a":20,"b":90,"v":-0.78},{"t":16.26,"a":9,"b":20,"v":-0.95},
{"t":16.51,"a":150,"b":170,"v":-0.7},{"t":16.51,"a":100,"b":150,"v":-0.58},{"t":16.51,"a":30,"b":80,"v":-0.55},{"t":16.51,"a":10,"b":30,"v":-0.72},
{"t":16.66,"a":115,"b":152,"v":-0.72},{"t":16.66,"a":28,"b":53,"v":-0.7},
{"t":16.89,"a":155,"b":172,"v":-0.7},{"t":16.89,"a":112,"b":155,"v":-0.5},{"t":16.89,"a":25,"b":69,"v":-0.48},{"t":16.89,"a":8,"b":25,"v":-0.65},
{"t":17.03,"a":109,"b":162,"v":-0.55},{"t":17.03,"a":18,"b":73,"v":-0.5},
{"t":17.25,"a":150,"b":170,"v":-0.6},{"t":17.25,"a":20,"b":150,"v":-0.5},{"t":17.25,"a":9,"b":20,"v":-0.65},
{"t":17.4,"a":150,"b":170,"v":-0.78},{"t":17.4,"a":102,"b":150,"v":-0.7},{"t":17.4,"a":30,"b":80,"v":-0.6},{"t":17.4,"a":9,"b":30,"v":-0.78},
{"t":17.63,"a":92,"b":170,"v":-0.65},{"t":17.63,"a":10,"b":88,"v":-0.68},
{"t":17.78,"a":144,"b":155,"v":-1.45},{"t":17.78,"a":136.5,"b":144,"v":-2.3},{"t":17.78,"a":129,"b":136.5,"v":-1.95},{"t":17.78,"a":37.5,"b":51,"v":-1.8},{"t":17.78,"a":30,"b":37.5,"v":-2.25},{"t":17.78,"a":25,"b":30,"v":-1.4},
{"t":18,"a":150,"b":172,"v":-1.7},{"t":18,"a":125,"b":150,"v":-1.55},{"t":18,"a":102,"b":125,"v":-1.45},{"t":18,"a":35,"b":68,"v":-1.45},{"t":18,"a":20,"b":35,"v":-1.6},{"t":18,"a":7,"b":20,"v":-1.75},
{"t":18.15,"a":140,"b":162,"v":-1.55},{"t":18.15,"a":120,"b":140,"v":-1.35},{"t":18.15,"a":94,"b":120,"v":-1.25},{"t":18.15,"a":50,"b":85,"v":-1.3},{"t":18.15,"a":30,"b":50,"v":-1.4},{"t":18.15,"a":15,"b":30,"v":-1.6},
{"t":18.39,"a":150,"b":170,"v":-1.65},{"t":18.39,"a":115,"b":150,"v":-1.45},{"t":18.39,"a":99,"b":115,"v":-1.05},{"t":18.39,"a":60,"b":82,"v":-1.1},{"t":18.39,"a":30,"b":60,"v":-1.4},{"t":18.39,"a":11,"b":30,"v":-1.6},
{"t":18.54,"a":135,"b":155,"v":-1.6},{"t":18.54,"a":119,"b":135,"v":-1.4},{"t":18.54,"a":22,"b":63,"v":-1.45},
{"t":18.76,"a":145,"b":170,"v":-1.55},{"t":18.76,"a":108,"b":145,"v":-1.35},{"t":18.76,"a":103,"b":108,"v":-1},{"t":18.76,"a":60,"b":75,"v":-1.1},{"t":18.76,"a":40,"b":60,"v":-1.3},{"t":18.76,"a":30,"b":40,"v":-1.55},{"t":18.76,"a":22,"b":30,"v":-1.1},
{"t":18.91,"a":142,"b":158,"v":-1.1},{"t":18.91,"a":118,"b":142,"v":-1.4},{"t":18.91,"a":32,"b":65,"v":-1.35},{"t":18.91,"a":25,"b":32,"v":-1.7},{"t":18.91,"a":20,"b":25,"v":-1.05},
{"t":19.13,"a":150,"b":170,"v":-1.8},{"t":19.13,"a":120,"b":150,"v":-1.4},{"t":19.13,"a":100,"b":120,"v":-1.2},{"t":19.13,"a":55,"b":75,"v":-0.85},{"t":19.13,"a":30,"b":55,"v":-1.25},{"t":19.13,"a":10,"b":30,"v":-1.75},
{"t":19.3,"a":160,"b":170,"v":-2},{"t":19.3,"a":150,"b":160,"v":-1.75},{"t":19.3,"a":100,"b":150,"v":-1.4},{"t":19.3,"a":50,"b":100,"v":-1.25},{"t":19.3,"a":25,"b":50,"v":-1.35},{"t":19.3,"a":9,"b":25,"v":-2},
{"t":19.52,"a":150,"b":170,"v":-1.7},{"t":19.52,"a":125,"b":150,"v":-1.45},{"t":19.52,"a":100,"b":125,"v":-1.1},{"t":19.52,"a":55,"b":79,"v":-1.05},{"t":19.52,"a":30,"b":55,"v":-1.3},{"t":19.52,"a":10,"b":30,"v":-1.6},
{"t":19.68,"a":127,"b":153,"v":-1.5},{"t":19.68,"a":26,"b":52,"v":-1.55},
{"t":19.89,"a":150,"b":172,"v":-1.55},{"t":19.89,"a":113,"b":150,"v":-1.3},{"t":19.89,"a":35,"b":68,"v":-1.4},{"t":19.89,"a":7,"b":35,"v":-1.55},
{"t":20.04,"a":145,"b":162,"v":-1.35},{"t":20.04,"a":135,"b":145,"v":-1.85},{"t":20.04,"a":111,"b":135,"v":-1.35},{"t":20.04,"a":40,"b":69,"v":-1.35},{"t":20.04,"a":27,"b":40,"v":-1.85},{"t":20.04,"a":17,"b":27,"v":-1.3}
]},"mark":{"type":"rect","width":9.2,"clip":true},"encoding":{"x":{"field":"t","type":"quantitative","scale":{"domain":[15,20.25],"nice":false},"axis":{"values":[15,16,17,18,19,20],"format":"d","title":"Jan, 2013","titlePadding":7,"grid":true,"gridColor":"#7a8a90","gridOpacity":0.55,"zindex":1}},"y":{"field":"a","type":"quantitative","scale":{"domain":[0,180],"nice":false},"axis":{"values":[0,30,60,90,120,150,180],"tickCount":7,"format":"d","title":null,"grid":true,"gridColor":"#7a8a90","gridOpacity":0.55,"zindex":1}},"y2":{"field":"b"},"color":{"field":"v","type":"quantitative","legend":null,"scale":{"domain":[-2.7,-2.3875,-1.7625,-1.1375,-0.5125,-0.2],"range":["#00008f","#0000ff","#00ffff","#ffff00","#ff0000","#800000"],"interpolate":"rgb"}}}},{"data":{"values":[{}]},"mark":{"type":"text","fontSize":15,"fontWeight":"bold","color":"#111"},"encoding":{"x":{"datum":14.43},"y":{"datum":190,"axis":{"values":[0,30,60,90,120,150,180]}},"text":{"value":"f"}}}]},
{"width":20,"height":139.5,"data":{"values":[{"lo":-2.7,"hi":-0.2}]},"mark":{"type":"rect","color":{"gradient":"linear","x1":0,"y1":1,"x2":0,"y2":0,"stops":[{"offset":0,"color":"#00008f"},{"offset":0.125,"color":"#0000ff"},{"offset":0.375,"color":"#00ffff"},{"offset":0.625,"color":"#ffff00"},{"offset":0.875,"color":"#ff0000"},{"offset":1,"color":"#800000"}]}},"encoding":{"y":{"field":"lo","type":"quantitative","scale":{"domain":[-2.7,-0.2],"nice":false},"axis":{"orient":"right","values":[-2.7,-2.2,-1.7,-1.2,-0.7,-0.2],"format":"~r","title":"Flux, log₁₀ (keV⁻¹ s⁻¹ sr⁻¹ cm⁻²)","titleAngle":270,"titlePadding":16,"tickSize":0}},"y2":{"field":"hi"}}}
]}
